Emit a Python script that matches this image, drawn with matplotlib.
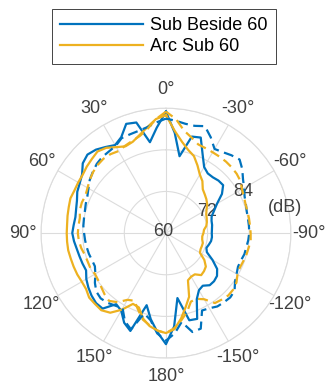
import numpy as np
import matplotlib
matplotlib.use('Agg')
import matplotlib.pyplot as plt
from matplotlib.transforms import ScaledTranslation

plt.rcParams['font.family'] = ['Liberation Sans', 'DejaVu Sans']

# Angles in degrees, 0 at the top, counter-clockwise positive (5 deg steps)
ANGLES = list(range(0, 360, 5))

# Levels in dB, one value per angle (0, 5, ... 180, -175, ... -5)
SUB_BESIDE_SOLID = [
    95.0, 90.5, 86.6, 93.0, 93.5, 90.5, 89.3, 90.3, 91.4, 92.0,
    91.3, 89.5, 88.7, 88.2, 87.3, 86.8, 86.5, 86.7, 87.0, 86.6,
    86.1, 85.8, 85.6, 85.4, 86.5, 87.3, 88.0, 88.5, 88.4, 85.0,
    85.8, 88.5, 90.0, 81.5, 85.2, 88.6, 92.0,
    87.0, 79.0, 86.0, 86.3, 81.0, 79.0, 78.5, 79.6, 79.6, 79.2,
    78.0, 75.5, 73.0, 72.4, 72.8, 73.2, 73.3, 73.2, 73.3, 73.5,
    73.6, 74.0, 75.3, 77.0, 79.7, 81.5, 81.4, 81.0, 81.0, 82.0,
    85.0, 89.3, 88.8, 82.5, 89.0,
]
ARC_SUB_SOLID = [
    94.0, 93.0, 91.0, 89.3, 88.0, 87.6, 88.6, 90.0, 90.7, 90.2,
    89.8, 89.3, 89.2, 89.1, 89.3, 89.0, 88.8, 88.6, 88.6, 88.6,
    88.6, 88.4, 88.3, 88.2, 88.0, 88.1, 88.9, 88.9, 89.0, 88.0,
    85.5, 82.5, 82.8, 85.5, 87.2, 88.2, 88.8,
    87.8, 85.0, 82.0, 79.5, 75.0, 74.5, 74.5, 75.8, 75.5, 75.0,
    73.5, 71.3, 71.0, 71.0, 71.0, 70.6, 70.5, 70.8, 71.0, 71.8,
    72.2, 72.5, 72.8, 73.5, 74.5, 75.2, 75.8, 76.5, 78.3, 79.5,
    81.5, 83.6, 84.8, 86.7, 89.5,
]
SUB_BESIDE_DASHED = [
    93.0, 92.0, 91.0, 90.5, 90.3, 90.2, 89.0, 88.7, 88.6, 88.2,
    87.5, 86.8, 85.8, 85.0, 84.6, 84.2, 84.0, 83.9, 83.6, 83.4,
    83.2, 83.0, 82.7, 82.6, 83.5, 85.0, 86.2, 86.6, 86.2, 85.5,
    85.0, 88.0, 89.5, 84.0, 85.5, 89.0, 91.0,
    89.0, 86.0, 89.5, 89.3, 84.6, 85.0, 85.8, 86.0, 86.2, 85.8,
    84.3, 83.5, 82.9, 83.0, 83.4, 83.5, 83.8, 84.0, 84.0, 84.0,
    84.1, 84.5, 85.0, 86.0, 87.1, 88.7, 90.0, 89.3, 88.5, 88.0,
    90.5, 92.8, 92.0, 92.0, 92.5,
]
ARC_SUB_DASHED = [
    95.0, 93.0, 90.5, 89.0, 88.3, 87.8, 87.3, 87.8, 88.0, 87.8,
    87.4, 86.8, 86.1, 85.6, 85.8, 85.7, 85.2, 85.3, 85.4, 85.2,
    84.8, 84.2, 84.0, 84.0, 83.6, 83.8, 84.3, 85.0, 85.5, 84.3,
    82.2, 81.5, 83.5, 85.8, 87.0, 88.2, 88.8,
    87.5, 85.5, 83.5, 81.0, 80.9, 82.0, 84.6, 85.0, 85.4, 85.3,
    84.8, 83.8, 83.5, 83.7, 84.0, 84.2, 84.5, 84.4, 84.3, 84.3,
    84.3, 84.4, 84.8, 85.3, 86.2, 86.6, 86.8, 86.9, 86.9, 86.9,
    87.0, 87.2, 88.5, 90.0, 93.0,
]

THETA_TICKS = list(range(0, 360, 30))
THETA_LABELS = ['0°', '30°', '60°', '90°', '120°', '150°', '180°',
                '-150°', '-120°', '-90°', '-60°', '-30°']
R_TICKS = [60, 72, 84, 96]
R_LABELS = ['60', '72', '84', '']

BLUE = '#0072BD'
ORANGE = '#EDB120'
GRID = '#dcdcdc'
LABEL = '#404040'


def closed(values):
    th = np.deg2rad(ANGLES + [360])
    return th, np.array(values + [values[0]])


fig = plt.figure(figsize=(3.28, 3.85), dpi=100)
ax = fig.add_axes([0.125, 0.07, 0.762, 0.649], projection='polar')
ax.set_theta_zero_location('N')
ax.set_theta_direction(1)

h1, = ax.plot(*closed(SUB_BESIDE_SOLID), color=BLUE, lw=1.6, label='Sub Beside 60')
h2, = ax.plot(*closed(ARC_SUB_SOLID), color=ORANGE, lw=1.6, label='Arc Sub 60')
ax.plot(*closed(SUB_BESIDE_DASHED), color=BLUE, lw=1.6, dashes=(4.5, 2.5))
ax.plot(*closed(ARC_SUB_DASHED), color=ORANGE, lw=1.6, dashes=(4.5, 2.5))

ax.set_rlim(60, 96)
ax.set_rticks(R_TICKS)
ax.set_yticklabels(R_LABELS)
ax.set_rlabel_position(298)
ax.set_thetagrids(THETA_TICKS, THETA_LABELS)
ax.tick_params(axis='x', pad=2.8, labelsize=13, colors=LABEL)
ax.tick_params(axis='y', labelsize=13, colors=LABEL)
ax.grid(True, color=GRID, lw=0.8)
ax.spines['polar'].set_color(GRID)
ax.spines['polar'].set_linewidth(0.8)

# centre the radial labels just outside their rings (pixel offsets)
r_offsets = [(-3, 2), (4, 2.5), (4, 3), (0, 0)]
for lab, (dx, dy) in zip(ax.get_yticklabels(), r_offsets):
    lab.set_ha('center')
    lab.set_va('center')
    lab.set_transform(lab.get_transform() +
                      ScaledTranslation(dx / 100, dy / 100, fig.dpi_scale_trans))

ax.text(np.deg2rad(-77.7), 95.0, '(dB)', fontsize=13, color=LABEL,
        ha='center', va='center')

leg = fig.legend(handles=[h1, h2], loc='upper center', bbox_to_anchor=(0.5, 0.977),
                 fontsize=13, handlelength=4.6, handletextpad=0.4, borderpad=0.45,
                 labelspacing=0.25, borderaxespad=0, fancybox=False, framealpha=1,
                 edgecolor='#262626')
leg.get_frame().set_linewidth(0.6)

fig.savefig('out.png', dpi=100)
